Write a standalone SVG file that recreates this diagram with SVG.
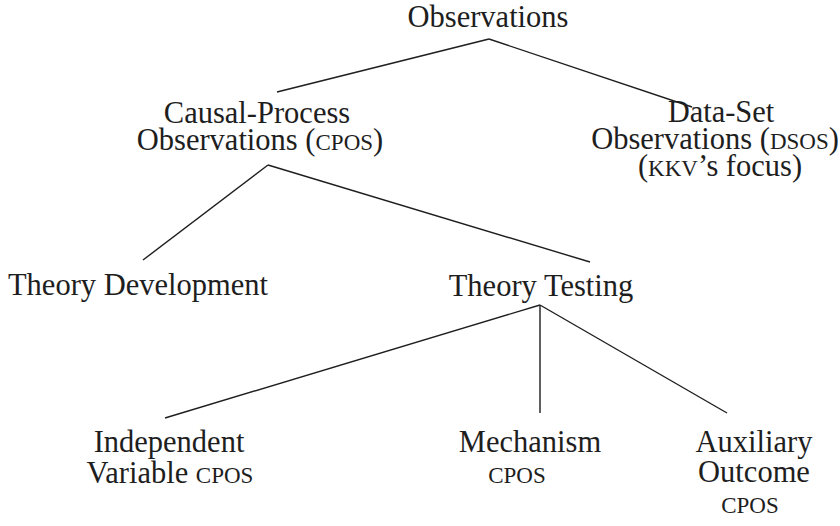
<svg xmlns="http://www.w3.org/2000/svg" width="840" height="526" viewBox="0 0 840 526">
<style>
text{font-family:"Liberation Serif","DejaVu Serif",serif;font-size:30.5px;fill:#1e1e1e;text-anchor:middle}
.sc{font-variant-caps:all-small-caps;font-size:33px}
.edge{stroke:#1e1e1e;stroke-width:1.4;fill:none}
</style>
<rect width="840" height="526" fill="#fff"/>
<g id="connectors">
<line class="edge" x1="489" y1="39" x2="277" y2="92"/>
<line class="edge" x1="489" y1="39" x2="692" y2="107"/>
<line class="edge" x1="268" y1="165" x2="143" y2="260"/>
<line class="edge" x1="268" y1="165" x2="590" y2="262"/>
<line class="edge" x1="540" y1="305" x2="165" y2="418"/>
<line class="edge" x1="540" y1="305" x2="540" y2="413"/>
<line class="edge" x1="540" y1="305" x2="727" y2="413"/>
</g>
<g id="observations"><text x="488" y="27">Observations</text></g>
<g id="cpos"><text x="257" y="123">Causal-Process</text><text x="260" y="150">Observations (<tspan class="sc">CPOs</tspan>)</text></g>
<g id="dsos"><text x="721" y="122">Data-Set</text><text x="715" y="149">Observations (<tspan class="sc">DSOs</tspan>)</text><text x="720" y="176">(<tspan class="sc">KKV</tspan>’s focus)</text></g>
<g id="theory-development"><text x="138" y="295">Theory Development</text></g>
<g id="theory-testing"><text x="541" y="296">Theory Testing</text></g>
<g id="independent-variable"><text x="169" y="452">Independent</text><text x="170" y="483">Variable <tspan class="sc">CPOs</tspan></text></g>
<g id="mechanism"><text x="530" y="452">Mechanism</text><text x="517" y="483" class="sc">CPOs</text></g>
<g id="auxiliary-outcome"><text x="754" y="452">Auxiliary</text><text x="754" y="482">Outcome</text><text x="750" y="513" class="sc">CPOs</text></g>
</svg>
